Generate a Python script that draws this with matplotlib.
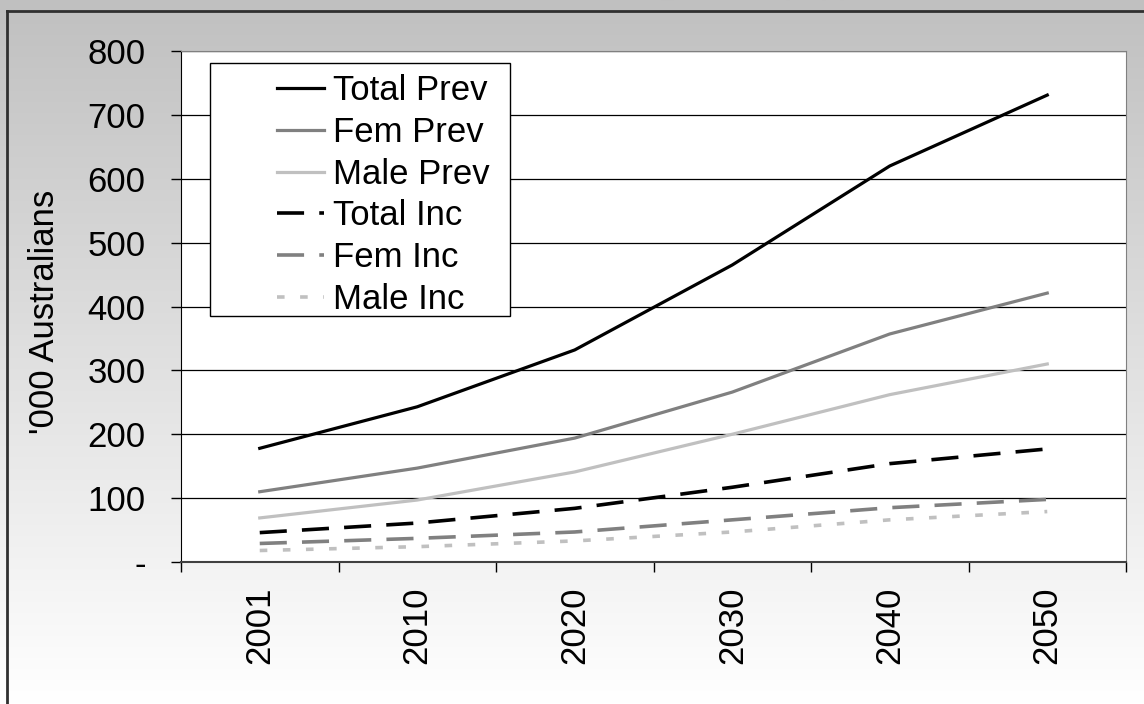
import matplotlib.pyplot as plt
from matplotlib.patches import Rectangle
import numpy as np

years = ['2001', '2010', '2020', '2030', '2040', '2050']
total_prev = [178, 243, 332, 465, 620, 731]
fem_prev = [110, 147, 194, 266, 357, 421]
male_prev = [69, 97, 141, 200, 262, 310]
total_inc = [46, 61, 84, 117, 154, 177]
fem_inc = [29, 37, 47, 66, 85, 98]
male_inc = [18, 24, 33, 47, 66, 79]

plt.rcParams['font.family'] = ['Liberation Sans', 'DejaVu Sans']
fs = 25
W, H = 1144, 704

fig = plt.figure(figsize=(W / 100, H / 100), dpi=100)

# grey-to-white gradient behind everything, with the frame on left/top
bg = fig.add_axes([0, 0, 1, 1], zorder=-10)
grad = np.linspace(192, 255, 256).reshape(-1, 1) / 255.0
bg.imshow(np.dstack([grad, grad, grad]), aspect='auto', extent=[0, 1, 0, 1], origin='upper')
bg.plot([7 / W, 7 / W], [0, 1 - 11 / H], color='#303030', lw=2)
bg.plot([7 / W, 1], [1 - 11 / H, 1 - 11 / H], color='#303030', lw=2)
bg.set_xlim(0, 1)
bg.set_ylim(0, 1)
bg.axis('off')

ax = fig.add_axes([181 / W, 1 - 562 / H, 945 / W, 511 / H])
ax.set_facecolor('white')
x = np.arange(len(years))

lw_s, lw_d = 2.3, 2.6
ax.plot(x, total_prev, color='black', lw=lw_s, label='Total Prev')
ax.plot(x, fem_prev, color='#808080', lw=lw_s, label='Fem Prev')
ax.plot(x, male_prev, color='#c0c0c0', lw=lw_s, label='Male Prev')
ax.plot(x, total_inc, color='black', lw=lw_d, dashes=(7.5, 4.2), label='Total Inc')
ax.plot(x, fem_inc, color='#808080', lw=lw_d, dashes=(7.5, 4.2), label='Fem Inc')
ax.plot(x, male_inc, color='#c0c0c0', lw=lw_d, dashes=(2.1, 4.3), label='Male Inc')

ax.set_xlim(-0.5, len(years) - 0.5)
ax.set_ylim(0, 800)
ax.set_yticks(range(0, 801, 100))
ax.set_yticklabels(['-'] + [str(v) for v in range(100, 801, 100)], fontsize=fs)
ax.set_xticks(np.arange(-0.5, len(years), 1.0))
ax.set_xticklabels([])
ax.set_xticks(x, minor=True)
ax.set_xticklabels(years, minor=True, rotation=90, fontsize=fs)
ax.tick_params(axis='x', which='major', length=7.5, width=1, direction='out')
ax.tick_params(axis='x', which='minor', length=0, pad=18)
ax.tick_params(axis='y', length=7.5, width=1, direction='out', pad=18)

for y in range(100, 801, 100):
    ax.axhline(y, color='black', lw=0.9, zorder=0.5)

ax.spines['top'].set_color('#808080')
ax.spines['right'].set_color('#808080')
ax.spines['left'].set_color('black')
ax.spines['bottom'].set_color('#404040')
ax.spines['bottom'].set_linewidth(1.5)

ax.set_ylabel("'000 Australians", fontsize=fs)
ax.yaxis.set_label_coords((61 - 181) / 945, 0.49)

# legend box drawn by hand so the handles can sit indented like the original
ax.add_patch(Rectangle((210 / W, 1 - 316 / H), 300 / W, 253 / H, transform=fig.transFigure,
                       facecolor='white', edgecolor='black', lw=1, zorder=4, clip_on=False))
leg = ax.legend(loc='upper left', bbox_to_anchor=(260 / W, 1 - 57 / H), bbox_transform=fig.transFigure,
                fontsize=fs, frameon=False, borderpad=0, handlelength=1.35,
                handletextpad=0.26, labelspacing=0.25)
leg.set_zorder(5)

fig.savefig('out.png', dpi=100)
